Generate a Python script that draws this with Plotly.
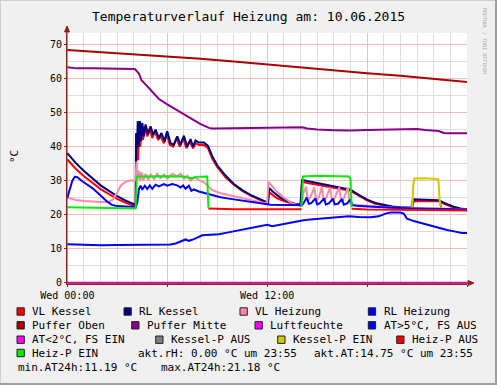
import plotly.graph_objects as go

# ---------------- data (hours since Wed 00:00, °C) ----------------
vl_kessel_h = [0, 0.5, 1.0, 1.5, 2.0, 2.5, 3.0, 3.5, 4.0, 4.1, 4.15, 4.2, 4.25, 4.3, 4.38, 4.45, 4.55, 4.65,
               4.8, 4.95, 5.1, 5.25, 5.45, 5.6, 5.8, 5.95, 6.15, 6.35, 6.55, 6.75, 6.95, 7.15, 7.35, 7.55,
               7.7, 7.9, 8.2, 8.45, 8.7, 9.0, 9.5, 10.0, 10.5, 11.0, 11.5, 12.0, 12.05, 12.1, 12.3, 12.6,
               13.0, 13.5, 14.0, 14.1, 14.5, 15.0, 15.5, 16.0, 16.5, 17.0, 17.5, 18.0, 18.5, 19.0, 19.5,
               20.0, 20.7, 20.8, 21.5, 22.3, 22.7, 23.2, 23.6, 24.0]
vl_kessel_v = [36.2, 33.5, 31.3, 29.3, 27.5, 26.0, 24.6, 23.5, 22.7, 22.5, 38.0, 44.0, 36.0, 46.0, 40.0, 46.5, 42.0, 46.0,
               43.0, 45.5, 42.5, 44.5, 42.0, 43.0, 41.0, 44.0, 40.5, 40.0, 42.5, 40.0, 42.5, 39.5, 41.5, 39.5,
               41.0, 40.5, 40.5, 39.5, 36.5, 34.0, 31.0, 28.8, 27.0, 25.6, 24.5, 23.5, 23.3, 26.6, 25.8, 24.8,
               24.0, 23.2, 22.6, 29.6, 29.3, 28.8, 28.3, 27.8, 27.4, 27.0, 25.6, 24.2, 23.2, 22.6, 22.3,
               22.1, 21.9, 24.0, 24.0, 23.9, 23.0, 22.1, 21.7, 21.5]

rl_kessel_h = [0, 0.5, 1.0, 1.5, 2.0, 2.5, 3.0, 3.5, 4.0, 4.1, 4.13, 4.18, 4.23, 4.28, 4.36, 4.43, 4.5, 4.6,
               4.7, 4.85, 5.0, 5.15, 5.3, 5.5, 5.65, 5.85, 6.0, 6.2, 6.4, 6.6, 6.8, 7.0, 7.2, 7.4, 7.55,
               7.7, 7.9, 8.2, 8.45, 8.7, 9.0, 9.5, 10.0, 10.5, 11.0, 11.5, 12.0, 12.05, 12.12, 12.4, 12.8,
               13.2, 13.6, 14.0, 14.1, 14.5, 15.0, 15.5, 16.0, 16.5, 17.0, 17.5, 18.0, 18.5, 19.0, 19.5,
               20.0, 20.7, 20.8, 21.5, 22.3, 22.7, 23.2, 23.6, 24.0]
rl_kessel_v = [38.1, 35.2, 32.8, 30.6, 28.6, 27.0, 25.4, 24.1, 23.1, 22.9, 44.0, 39.5, 47.5, 40.0, 47.5, 41.5, 47.0, 43.0,
               46.5, 43.5, 46.0, 43.5, 45.0, 42.5, 44.0, 41.5, 44.5, 41.0, 40.5, 43.0, 40.5, 43.2, 40.0, 42.2, 40.0,
               41.8, 41.2, 41.2, 40.2, 37.2, 34.5, 31.5, 29.0, 27.2, 25.8, 24.7, 23.6, 23.5, 27.8, 26.5, 25.0,
               24.0, 23.3, 22.9, 30.2, 29.8, 29.3, 28.8, 28.3, 27.8, 27.3, 25.8, 24.4, 23.4, 22.8, 22.4,
               22.2, 22.1, 24.5, 24.4, 24.2, 23.3, 22.3, 21.8, 21.6]

vl_heizung_h = [0, 0.5, 1.0, 1.5, 2.0, 2.5, 2.75, 3.0, 3.2, 3.5, 3.8, 4.1, 4.15, 4.2, 4.28, 4.35, 4.45, 4.55,
                4.7, 4.85, 5.0, 5.2, 5.4, 5.6, 5.8, 6.0, 6.3, 6.6, 6.8, 7.0, 7.2, 7.4, 7.6, 7.9, 8.2, 8.5,
                8.7, 9.2, 9.7, 10.2, 10.7, 11.2, 11.7, 12.0, 12.08, 12.3, 12.6, 13.0, 13.5, 13.8, 14.05,
                14.15, 14.33, 14.45, 14.6, 14.83, 14.95, 15.1, 15.28, 15.4, 15.55, 15.78, 15.9, 16.05,
                16.33, 16.45, 16.6, 16.85, 16.95, 17.1, 17.5, 18.5, 19.5, 20.5, 21.5, 22.5, 24.0]
vl_heizung_v = [25.0, 24.3, 24.0, 23.8, 23.7, 23.8, 24.5, 26.5, 28.5, 29.7, 30.0, 30.0, 35.6, 30.5, 33.0, 29.8, 32.5, 30.0,
                32.0, 30.2, 31.8, 30.5, 32.0, 30.8, 31.8, 30.6, 32.0, 31.2, 32.0, 30.5, 31.5, 30.0, 31.0, 30.2, 29.5, 28.2,
                27.2, 26.3, 25.7, 25.1, 24.6, 24.1, 23.6, 23.4, 29.6, 28.4, 26.7, 25.0, 23.3, 22.9, 22.8,
                26.0, 28.2, 24.0, 25.2, 28.1, 24.0, 25.0, 28.1, 23.9, 25.0, 28.0, 23.8, 24.9,
                28.0, 23.6, 24.8, 28.0, 23.5, 23.0, 22.8, 22.4, 22.1, 21.9, 21.8, 21.8, 21.5]

rl_heizung_h = [0, 0.15, 0.3, 0.45, 0.6, 0.9, 1.2, 1.5, 1.8, 2.1, 2.4, 2.7, 3.0, 3.5, 4.1, 4.2, 4.3, 4.4, 4.5,
                4.65, 4.8, 4.95, 5.1, 5.3, 5.5, 5.8, 6.0, 6.3, 6.6, 6.8, 6.95, 7.1, 7.3, 7.45, 7.6, 7.9,
                8.3, 8.7, 9.2, 9.7, 10.2, 10.7, 11.2, 11.7, 12.2, 13.0, 14.0, 14.1, 14.2, 14.38, 14.5,
                14.65, 14.9, 15.0, 15.15, 15.42, 15.52, 15.7, 15.95, 16.05, 16.25, 16.5, 16.6, 16.8,
                17.0, 17.1, 17.5, 18.5, 19.5, 20.5, 21.5, 22.5, 24.0]
rl_heizung_v = [25.0, 27.5, 30.0, 31.1, 31.0, 29.8, 28.8, 27.8, 26.5, 25.2, 23.8, 22.8, 22.5, 22.4, 22.3, 23.5, 27.5, 28.5, 27.3,
                28.5, 27.5, 28.6, 27.6, 28.8, 28.3, 29.0, 28.5, 29.0, 28.6, 28.0, 28.6, 27.6, 28.5, 27.0, 27.4, 26.8,
                26.3, 25.6, 25.1, 24.7, 24.3, 24.0, 23.6, 23.3, 22.9, 22.8, 22.7, 22.8, 23.5, 25.0, 23.2,
                23.4, 24.8, 23.0, 23.3, 24.8, 23.0, 23.3, 24.7, 23.0, 23.2, 24.6, 22.9, 23.3,
                24.5, 22.8, 22.5, 22.2, 22.0, 21.9, 21.8, 21.7, 21.5]

puffer_oben_h = [0, 2, 4, 6, 8, 10, 12, 14, 16, 18, 20, 22, 24]
puffer_oben_v = [68.4, 67.8, 67.2, 66.5, 65.8, 65.0, 64.1, 63.3, 62.5, 61.6, 60.8, 59.9, 59.0]

puffer_mitte_h = [0, 0.3, 0.6, 1.5, 2.5, 3.5, 4.05, 4.3, 4.45, 4.6, 5.0, 5.5, 6.0, 6.5, 7.0, 7.5, 8.0, 8.5, 8.7,
                  10, 12, 13, 14.1, 14.4, 15, 16, 17, 18, 19, 20, 21, 21.5, 22.3, 22.6, 23, 24]
puffer_mitte_v = [63.3, 63.2, 63.0, 63.0, 62.9, 62.8, 62.8, 61.5, 59.5, 58.8, 56.8, 54.0, 52.4, 51.0, 49.5, 48.1, 46.6, 45.5, 45.3,
                  45.4, 45.5, 45.6, 45.7, 45.3, 45.0, 44.8, 44.7, 44.9, 45.0, 45.1, 45.2, 44.9, 44.6, 44.0, 43.9, 43.9]

luftfeuchte_h = [0, 4, 8, 12, 16, 20, 24]
luftfeuchte_v = [0, 0, 0, 0, 0, 0, 0]

aussen_h = [0, 1, 2, 3, 4, 5, 5.7, 6.2, 6.5, 6.8, 7.1, 7.3, 7.6, 8.1, 8.5, 9.1, 9.6, 10.1, 10.6, 11.1, 11.7,
            12.0, 12.3, 12.6, 13.1, 13.6, 14.1, 14.6, 15.1, 15.6, 16.1, 16.6, 16.9, 17.5, 18.2, 18.7, 19.1,
            19.4, 19.7, 20.0, 20.2, 20.4, 20.8, 21.3, 21.8, 22.3, 22.8, 23.3, 23.7, 24.0]
aussen_v = [11.3, 11.1, 11.0, 11.1, 11.1, 11.1, 11.0, 11.2, 11.5, 12.0, 12.7, 12.3, 12.8, 13.9, 14.0, 14.2, 14.7, 15.2, 15.6, 16.2, 16.9,
            17.0, 16.6, 16.9, 17.4, 17.9, 18.3, 18.6, 18.8, 19.0, 19.1, 19.4, 19.5, 19.3, 19.2, 19.5, 20.3,
            20.6, 20.5, 20.6, 20.3, 18.8, 18.1, 17.4, 16.8, 16.2, 15.5, 15.0, 14.6, 14.6]

kessel_p_aus_h = [20.66, 20.72, None, 22.38, 22.45]
kessel_p_aus_v = [22.1, 24.3, None, 24.0, 22.1]

kessel_p_ein_h = [20.72, 20.77, 20.84, 21.5, 22.28, 22.32, 22.38]
kessel_p_ein_v = [22.2, 28.5, 30.6, 30.7, 30.4, 27.5, 22.5]

heiz_p_aus_h = [8.47, 10, 12, 14.06, None, 17.07, 18, 20, 22, 24]
heiz_p_aus_v = [21.8, 21.6, 21.6, 21.6, None, 21.7, 21.5, 21.4, 21.3, 21.2]

heiz_p_ein_h = [0, 1, 2, 3, 4.1, 4.17, 5, 6, 7, 7.3, 7.5, 7.7, 8.4, 8.47, None,
                14.06, 14.15, 15, 16, 16.9, 17.0, 17.07]
heiz_p_ein_v = [22.2, 22.1, 22.0, 21.9, 21.8, 31.2, 31.3, 31.3, 31.2, 30.8, 30.6, 31.1, 31.2, 22.0, None,
                22.3, 31.2, 31.4, 31.4, 31.2, 30.5, 22.2]

x_tick_vals = [0, 6, 12, 18, 24]
x_tick_text = ["Wed 00:00", "", "Wed 12:00", "", ""]
y_tick_vals = [0, 10, 20, 30, 40, 50, 60, 70]

series = [
    ("VL Kessel", "#ff0000", vl_kessel_h, vl_kessel_v),
    ("RL Kessel", "#000080", rl_kessel_h, rl_kessel_v),
    ("VL Heizung", "#ff88aa", vl_heizung_h, vl_heizung_v),
    ("RL Heizung", "#0000ff", rl_heizung_h, rl_heizung_v),
    ("Puffer Oben", "#aa0000", puffer_oben_h, puffer_oben_v),
    ("Puffer Mitte", "#880088", puffer_mitte_h, puffer_mitte_v),
    ("Luftfeuchte", "#ff00ff", luftfeuchte_h, luftfeuchte_v),
    ("AT>5°C, FS AUS", "#0000ff", aussen_h, aussen_v),
    ("AT<2°C, FS EIN", "#ff00ff", [], []),
    ("Kessel-P AUS", "#808080", kessel_p_aus_h, kessel_p_aus_v),
    ("Kessel-P EIN", "#cccc00", kessel_p_ein_h, kessel_p_ein_v),
    ("Heiz-P AUS", "#ff0000", heiz_p_aus_h, heiz_p_aus_v),
    ("Heiz-P EIN", "#00ee00", heiz_p_ein_h, heiz_p_ein_v),
]
colors = {name: c for name, c, _, _ in series}

# ---------------- figure ----------------
W_FIG, H_FIG = 497, 385
L, R, T, B = 67, 30, 33, 101
PW, PH = W_FIG - L - R, H_FIG - T - B

def px_x(px):
    return (px - L) / PW

def px_y(py):
    return (T + PH - py) / PH

fig = go.Figure()
for name, col, hs, vs in series:
    fig.add_trace(go.Scatter(x=hs, y=vs, mode="lines", name=name,
                             line=dict(color=col, width=2), connectgaps=False,
                             showlegend=False, hoverinfo="skip"))

MONO = "DejaVu Sans Mono"
AXC = "#8b2020"

fig.update_layout(
    width=W_FIG, height=H_FIG,
    margin=dict(l=L, r=R, t=T, b=B, pad=0),
    paper_bgcolor="#f0f0f0", plot_bgcolor="#ffffff",
    font=dict(family=MONO, size=10, color="#000000"),
    showlegend=False,
)
fig.update_xaxes(range=[-0.02, 24.0], tickmode="array", tickvals=x_tick_vals, ticktext=x_tick_text,
                 showgrid=True, gridcolor="#f5bcbc", gridwidth=1,
                 minor=dict(tickmode="linear", tick0=0, dtick=1, showgrid=True, gridcolor="#dddddd", gridwidth=1),
                 showline=True, linecolor=AXC, linewidth=1, zeroline=False,
                 ticks="outside", ticklen=2, tickcolor=AXC, tickfont=dict(family=MONO, size=10))
fig.update_yaxes(range=[-0.4, 73.4], tickmode="array", tickvals=y_tick_vals,
                 showgrid=True, gridcolor="#f5bcbc", gridwidth=1,
                 minor=dict(tickmode="linear", tick0=0, dtick=5, showgrid=True, gridcolor="#dddddd", gridwidth=1),
                 showline=True, linecolor=AXC, linewidth=1, zeroline=False,
                 ticks="outside", ticklen=2, tickcolor=AXC, tickfont=dict(family=MONO, size=10))

shapes = []
annotations = []

# axis arrows
shapes.append(dict(type="line", xref="paper", yref="paper", x0=px_x(67), x1=px_x(67), y0=px_y(283), y1=px_y(30),
                   line=dict(color=AXC, width=1)))
shapes.append(dict(type="path", xref="paper", yref="paper",
                   path=f"M {px_x(64.5)} {px_y(32)} L {px_x(67)} {px_y(26)} L {px_x(69.5)} {px_y(32)} Z",
                   fillcolor=AXC, line=dict(color=AXC, width=1)))
shapes.append(dict(type="line", xref="paper", yref="paper", x0=px_x(67), x1=px_x(470), y0=px_y(283), y1=px_y(283),
                   line=dict(color=AXC, width=1)))
shapes.append(dict(type="path", xref="paper", yref="paper",
                   path=f"M {px_x(468)} {px_y(280.5)} L {px_x(474)} {px_y(283)} L {px_x(468)} {px_y(285.5)} Z",
                   fillcolor=AXC, line=dict(color=AXC, width=1)))

# canvas frame
shapes.append(dict(type="line", xref="paper", yref="paper", x0=px_x(0), x1=px_x(497), y0=px_y(0.5), y1=px_y(0.5),
                   line=dict(color="#cfcfcf", width=1)))
shapes.append(dict(type="line", xref="paper", yref="paper", x0=px_x(0.5), x1=px_x(0.5), y0=px_y(0), y1=px_y(385),
                   line=dict(color="#cfcfcf", width=1)))
shapes.append(dict(type="line", xref="paper", yref="paper", x0=px_x(496), x1=px_x(496), y0=px_y(0), y1=px_y(385),
                   line=dict(color="#9e9e9e", width=2)))
shapes.append(dict(type="line", xref="paper", yref="paper", x0=px_x(0), x1=px_x(497), y0=px_y(384), y1=px_y(384),
                   line=dict(color="#9e9e9e", width=2)))

# title
annotations.append(dict(text="Temperaturverlauf Heizung am: 10.06.2015", xref="paper", yref="paper",
                        x=px_x(248.5), y=px_y(16), xanchor="center", yanchor="middle", showarrow=False,
                        font=dict(family=MONO, size=13, color="#000000")))
# y axis label
annotations.append(dict(text="°C", xref="paper", yref="paper", x=px_x(14), y=px_y(157), textangle=-90,
                        xanchor="center", yanchor="middle", showarrow=False,
                        font=dict(family=MONO, size=11, color="#000000")))
# watermark
annotations.append(dict(text="RRDTOOL / TOBI OETIKER", xref="paper", yref="paper", x=px_x(485), y=px_y(41),
                        textangle=90, xanchor="center", yanchor="middle", showarrow=False,
                        font=dict(family=MONO, size=5, color="#aaaaaa")))

# legend
legend_items = [
    ("VL Kessel", 17, 311.5), ("RL Kessel", 124, 311.5), ("VL Heizung", 240, 311.5), ("RL Heizung", 368.3, 311.5),
    ("Puffer Oben", 17, 325.3), ("Puffer Mitte", 131.7, 325.3), ("Luftfeuchte", 255, 325.3), ("AT>5°C, FS AUS", 368.3, 325.3),
    ("AT<2°C, FS EIN", 17, 339.7), ("Kessel-P AUS", 155.7, 339.7), ("Kessel-P EIN", 277.7, 339.7), ("Heiz-P AUS", 396.7, 339.7),
    ("Heiz-P EIN", 17, 353.0),
]
LFS = 11
for name, sx, cy in legend_items:
    shapes.append(dict(type="rect", xref="paper", yref="paper",
                       x0=px_x(sx), x1=px_x(sx + 7.3), y0=px_y(cy + 3.7), y1=px_y(cy - 3.7),
                       fillcolor=colors[name], line=dict(color="#222222", width=1)))
    annotations.append(dict(text=name, xref="paper", yref="paper", x=px_x(sx + 13.2), y=px_y(cy),
                            xanchor="left", yanchor="middle", showarrow=False,
                            font=dict(family=MONO, size=LFS, color="#000000")))

extra_text = [
    ("akt.rH: 0.00 °C um 23:55", 136.2, 353.0),
    ("akt.AT:14.75 °C um 23:55", 311.8, 353.0),
    ("min.AT24h:11.19 °C", 16.2, 367.7),
    ("max.AT24h:21.18 °C", 158.5, 367.7),
]
for txt, tx, cy in extra_text:
    annotations.append(dict(text=txt, xref="paper", yref="paper", x=px_x(tx), y=px_y(cy),
                            xanchor="left", yanchor="middle", showarrow=False,
                            font=dict(family=MONO, size=LFS, color="#000000")))

fig.update_layout(shapes=shapes, annotations=annotations)
fig.write_html("out.html", config={"displayModeBar": False},
               post_script="document.body.style.margin='0';document.body.style.padding='0';")
